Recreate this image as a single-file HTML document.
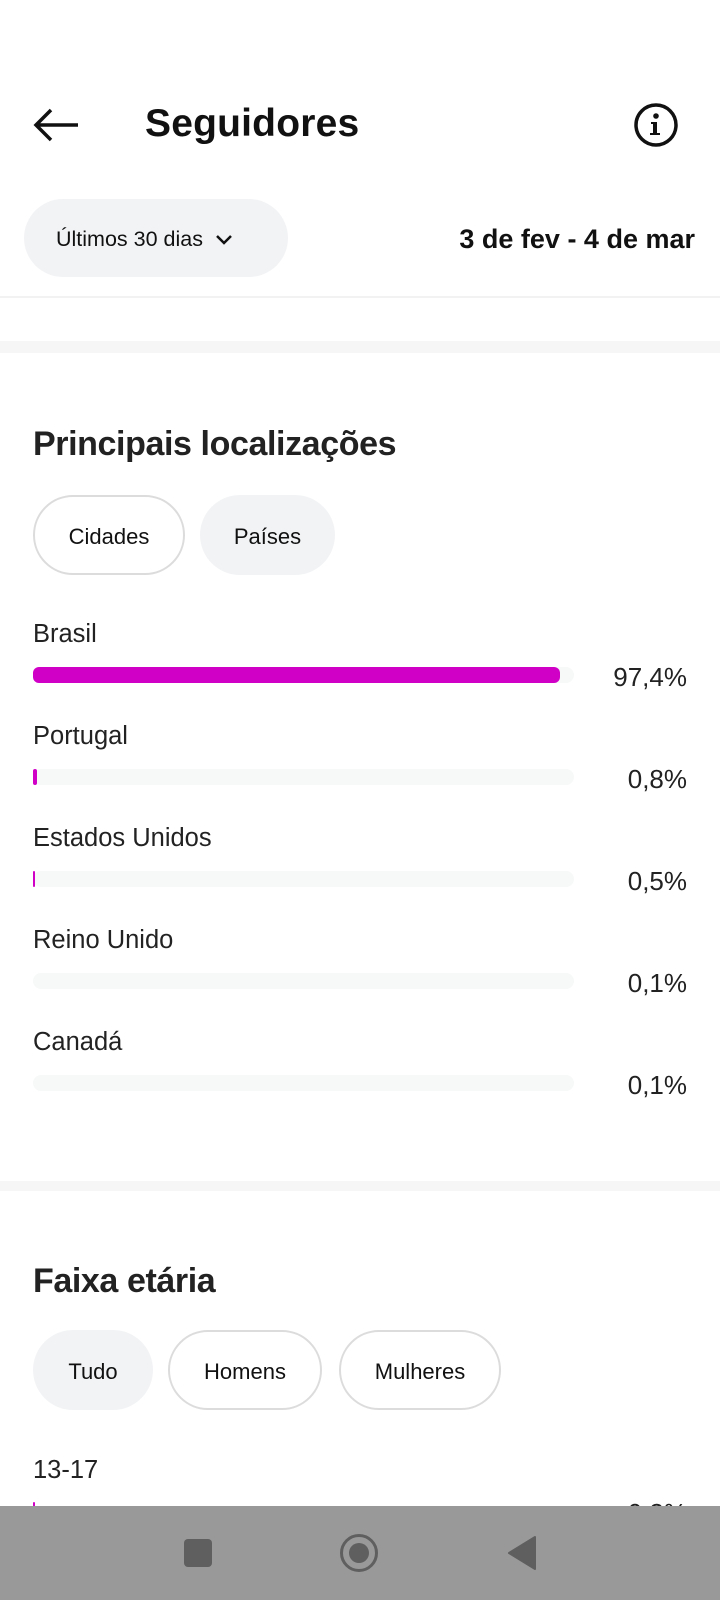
<!DOCTYPE html>
<html><head><meta charset="utf-8"><style>
*{margin:0;padding:0;box-sizing:border-box}
body{width:720px;height:1600px;background:#fff;position:relative;overflow:hidden;font-family:"Liberation Sans",sans-serif;color:#1c1c1c}
.a{position:absolute;white-space:nowrap}
.chip{position:absolute;border-radius:40px;display:flex;align-items:center;justify-content:center;font-size:22px;color:#111;padding-top:3px}
.o{border:2px solid #dcdcdc;background:#fff}
.f{background:#f2f3f5}
.lbl{position:absolute;left:33px;font-size:25.5px;color:#222}
.trk{position:absolute;left:33px;width:541px;height:16px;border-radius:8px;background:#f7f8f8}
.bar{position:absolute;left:33px;height:16px;border-radius:6px;background:#d100c7}
.pct{position:absolute;right:33px;font-size:26px;color:#222}
</style></head><body>
<svg class="a" style="left:32px;top:107px" width="48" height="36" viewBox="0 0 48 36"><path d="M46 18H4M19 3L4 18l15 15" fill="none" stroke="#111" stroke-width="3.5"/></svg>
<div class="a" style="left:145px;top:102px;font-size:39px;font-weight:bold;color:#111;letter-spacing:0.2px">Seguidores</div>
<svg class="a" style="left:633px;top:102px" width="46" height="46" viewBox="0 0 46 46"><circle cx="23" cy="23" r="20" fill="none" stroke="#111" stroke-width="3.5"/><circle cx="23" cy="14" r="2.8" fill="#111"/><path d="M18 20h6v11h3v2h-10v-2h3v-9h-2z" fill="#111"/></svg>
<div class="chip f" style="left:24px;top:199px;width:264px;height:78px;font-size:21.5px;justify-content:flex-start;padding-left:32px">Últimos 30 dias <svg style="margin-left:12px" width="18" height="12" viewBox="0 0 18 12"><path d="M2 2l7 7 7-7" fill="none" stroke="#111" stroke-width="2.5"/></svg></div>
<div class="a" style="right:25px;top:224px;font-size:27px;font-weight:bold;color:#111">3 de fev - 4 de mar</div>
<div class="a" style="left:0;top:296px;width:720px;height:2px;background:#f2f2f2"></div>
<div class="a" style="left:0;top:341px;width:720px;height:12px;background:#f6f6f6"></div>
<div class="a" style="left:33px;top:425px;font-size:34px;font-weight:bold;color:#222;letter-spacing:-0.4px">Principais localizações</div>
<div class="chip o" style="left:33px;top:495px;width:152px;height:80px">Cidades</div>
<div class="chip f" style="left:200px;top:495px;width:135px;height:80px">Países</div>

<div class="lbl" style="top:620px">Brasil</div><div class="trk" style="top:667px"></div><div class="bar" style="top:667px;width:527px"></div><div class="pct" style="top:662px">97,4%</div>
<div class="lbl" style="top:722px">Portugal</div><div class="trk" style="top:769px"></div><div class="bar" style="top:769px;width:4px;border-radius:2px"></div><div class="pct" style="top:764px">0,8%</div>
<div class="lbl" style="top:824px">Estados Unidos</div><div class="trk" style="top:871px"></div><div class="bar" style="top:871px;width:2px;border-radius:1px"></div><div class="pct" style="top:866px">0,5%</div>
<div class="lbl" style="top:926px">Reino Unido</div><div class="trk" style="top:973px"></div><div class="pct" style="top:968px">0,1%</div>
<div class="lbl" style="top:1028px">Canadá</div><div class="trk" style="top:1075px"></div><div class="pct" style="top:1070px">0,1%</div>

<div class="a" style="left:0;top:1181px;width:720px;height:10px;background:#f6f6f6"></div>
<div class="a" style="left:33px;top:1262px;font-size:34px;font-weight:bold;color:#222;letter-spacing:-0.4px">Faixa etária</div>
<div class="chip f" style="left:33px;top:1330px;width:120px;height:80px">Tudo</div>
<div class="chip o" style="left:168px;top:1330px;width:154px;height:80px">Homens</div>
<div class="chip o" style="left:339px;top:1330px;width:162px;height:80px">Mulheres</div>
<div class="lbl" style="top:1456px">13-17</div>
<div class="bar" style="top:1502px;width:2px"></div>
<div class="pct" style="top:1498px">0,3%</div>

<div class="a" style="left:0;top:1506px;width:720px;height:94px;background:#999"></div>
<div class="a" style="left:184px;top:1539px;width:28px;height:28px;border-radius:4px;background:#5f5f5f"></div>
<div class="a" style="left:340px;top:1534px;width:38px;height:38px;border-radius:50%;border:3px solid #5f5f5f"></div>
<div class="a" style="left:349px;top:1543px;width:20px;height:20px;border-radius:50%;background:#5f5f5f"></div>
<svg class="a" style="left:507px;top:1535px" width="30" height="36" viewBox="0 0 30 36"><path d="M28 2v32L2 18z" fill="#5f5f5f" stroke="#5f5f5f" stroke-linejoin="round" stroke-width="2"/></svg>
</body></html>
